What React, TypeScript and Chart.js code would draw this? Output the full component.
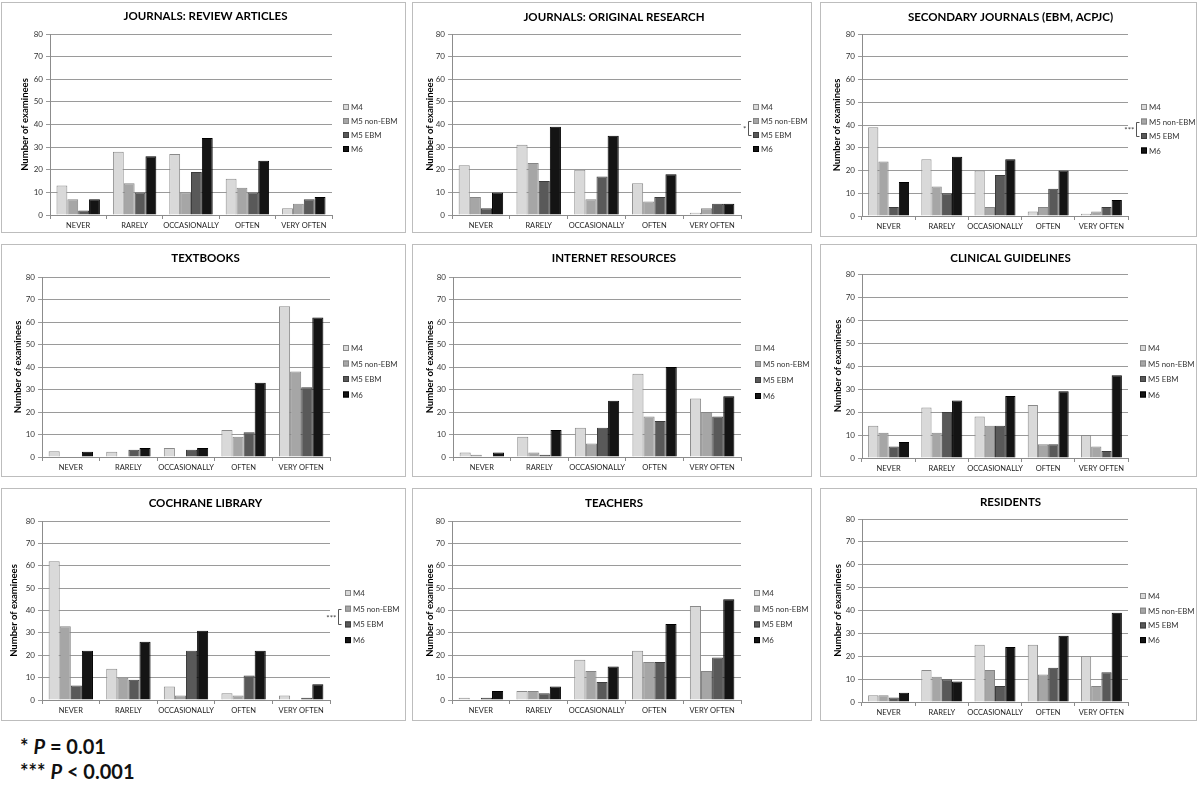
import React, { useEffect, useRef } from "react";
import { Chart, registerables } from "chart.js";

Chart.register(...registerables);

// ---------- data ----------
const categories = ["NEVER", "RARELY", "OCCASIONALLY", "OFTEN", "VERY OFTEN"];
const seriesNames = ["M4", "M5 non-EBM", "M5 EBM", "M6"];
const yMin = 0;
const yMax = 80;
const yStep = 10;
const yAxisTitle = "Number of examinees";

const reviewM4 = [13, 28, 27, 16, 3];
const reviewM5non = [7, 14, 10, 12, 5];
const reviewM5ebm = [2, 10, 19, 10, 7];
const reviewM6 = [7, 26, 34, 24, 8];

const originalM4 = [22, 31, 20, 14, 1];
const originalM5non = [8, 23, 7, 6, 3];
const originalM5ebm = [3, 15, 17, 8, 5];
const originalM6 = [10, 39, 35, 18, 5];

const secondaryM4 = [39, 25, 20, 2, 1];
const secondaryM5non = [24, 13, 4, 4, 2];
const secondaryM5ebm = [4, 10, 18, 12, 4];
const secondaryM6 = [15, 26, 25, 20, 7];

const textbooksM4 = [2.6, 2.3, 4, 12, 67];
const textbooksM5non = [0, 0, 0, 9, 38];
const textbooksM5ebm = [0, 3.2, 3.2, 11, 31];
const textbooksM6 = [2.3, 4, 4, 33, 62];

const internetM4 = [2, 9, 13, 37, 26];
const internetM5non = [1, 2, 6, 18, 20];
const internetM5ebm = [0, 1, 13, 16, 18];
const internetM6 = [2, 12, 25, 40, 27];

const guidelinesM4 = [14, 22, 18, 23, 10];
const guidelinesM5non = [11, 11, 14, 6, 5];
const guidelinesM5ebm = [5, 20, 14, 6, 3];
const guidelinesM6 = [7, 25, 27, 29, 36];

const cochraneM4 = [62, 14, 6, 3, 2];
const cochraneM5non = [33, 10, 2, 2, 0];
const cochraneM5ebm = [6.5, 9, 22, 11, 1];
const cochraneM6 = [22, 26, 31, 22, 7];

const teachersM4 = [1, 4, 18, 22, 42];
const teachersM5non = [0, 4, 13, 17, 13];
const teachersM5ebm = [1, 3, 8, 17, 19];
const teachersM6 = [4, 6, 15, 34, 45];

const residentsM4 = [3, 14, 25, 25, 20];
const residentsM5non = [3, 11, 14, 12, 7];
const residentsM5ebm = [2, 10, 7, 15, 13];
const residentsM6 = [4, 9, 24, 29, 39];

const panelTitles = [
  "JOURNALS: REVIEW ARTICLES",
  "JOURNALS: ORIGINAL RESEARCH",
  "SECONDARY JOURNALS (EBM, ACPJC)",
  "TEXTBOOKS",
  "INTERNET RESOURCES",
  "CLINICAL GUIDELINES",
  "COCHRANE LIBRARY",
  "TEACHERS",
  "RESIDENTS",
];
const panelSeries = [
  [reviewM4, reviewM5non, reviewM5ebm, reviewM6],
  [originalM4, originalM5non, originalM5ebm, originalM6],
  [secondaryM4, secondaryM5non, secondaryM5ebm, secondaryM6],
  [textbooksM4, textbooksM5non, textbooksM5ebm, textbooksM6],
  [internetM4, internetM5non, internetM5ebm, internetM6],
  [guidelinesM4, guidelinesM5non, guidelinesM5ebm, guidelinesM6],
  [cochraneM4, cochraneM5non, cochraneM5ebm, cochraneM6],
  [teachersM4, teachersM5non, teachersM5ebm, teachersM6],
  [residentsM4, residentsM5non, residentsM5ebm, residentsM6],
];
const significanceMarks = ["", "*", "***", "", "", "", "***", "", ""];
const footnoteStars = ["*", "***"];
const footnoteTests = ["= 0.01", "< 0.001"];

// ---------- styles / layout ----------
const seriesFill = ["#d9d9d9", "#a6a6a6", "#595959", "#141414"];
const seriesBorder = ["#8a8a8a", "#858585", "#3c3c3c", "#000000"];
const FONT = "Lato, 'Open Sans', sans-serif";

type Layout = {
  box: [number, number, number, number];
  plot: [number, number, number, number];
  titleY: number;
  yTitleX: number;
  legendX: number;
  legendY: number;
  legendStep: number;
  bracketX: number;
};

const layouts: Layout[] = [
  { box: [1, 2, 405, 231], plot: [50, 34, 332, 215], titleY: 16, yTitleX: 25, legendX: 343, legendY: 107, legendStep: 14, bracketX: 0 },
  { box: [412, 2, 400, 231], plot: [452, 34, 741, 215], titleY: 17, yTitleX: 430, legendX: 753, legendY: 107, legendStep: 14, bracketX: 748 },
  { box: [820, 2, 377, 235], plot: [862, 34, 1128, 216], titleY: 17, yTitleX: 837, legendX: 1141, legendY: 107, legendStep: 14.5, bracketX: 1136 },
  { box: [1, 244, 405, 233], plot: [42, 277, 330, 457], titleY: 258, yTitleX: 18, legendX: 343, legendY: 348, legendStep: 15.5, bracketX: 0 },
  { box: [412, 244, 400, 233], plot: [453, 277, 741, 457], titleY: 258, yTitleX: 430, legendX: 755, legendY: 348, legendStep: 16, bracketX: 0 },
  { box: [820, 244, 377, 233], plot: [862, 274, 1128, 458], titleY: 258, yTitleX: 838, legendX: 1140, legendY: 348, legendStep: 15.5, bracketX: 0 },
  { box: [1, 488, 405, 233], plot: [42, 521, 330, 700], titleY: 503, yTitleX: 14, legendX: 345, legendY: 593, legendStep: 15.7, bracketX: 338 },
  { box: [412, 488, 400, 233], plot: [452, 521, 741, 700], titleY: 503, yTitleX: 430, legendX: 754, legendY: 593, legendStep: 15.7, bracketX: 0 },
  { box: [820, 488, 377, 233], plot: [862, 519, 1128, 702], titleY: 502, yTitleX: 838, legendX: 1140, legendY: 596, legendStep: 14.7, bracketX: 0 },
];

function Panel({ index }: { index: number }) {
  const ref = useRef<HTMLCanvasElement | null>(null);
  const L = layouts[index];
  const [bx, by, bw, bh] = L.box;
  const [pl, pt, pr, pb] = L.plot;

  useEffect(() => {
    if (!ref.current) return;
    const title = panelTitles[index];
    const mark = significanceMarks[index];
    const yAxisWidth = pl - bx;
    const xAxisHeight = by + bh - pb;
    const decor = {
      id: "decor" + index,
      afterDraw(chart: any) {
        const ctx = chart.ctx as CanvasRenderingContext2D;
        ctx.save();
        // title
        ctx.fillStyle = "#000";
        ctx.font = `bold 11.5px ${FONT}`;
        ctx.textAlign = "center";
        ctx.textBaseline = "middle";
        ctx.fillText(title, bw / 2 + 2, L.titleY - by);
        // y axis title
        ctx.save();
        ctx.translate(L.yTitleX - bx, (pt + pb) / 2 - by);
        ctx.rotate(-Math.PI / 2);
        ctx.font = `bold 9.5px ${FONT}`;
        ctx.fillText(yAxisTitle, 0, 0);
        ctx.restore();
        // legend
        ctx.textAlign = "left";
        chart.data.datasets.forEach((ds: any, i: number) => {
          const x = L.legendX - bx;
          const y = L.legendY + i * L.legendStep - by;
          ctx.fillStyle = ds.backgroundColor;
          ctx.fillRect(x, y - 3, 6, 6);
          ctx.strokeStyle = ds.borderColor;
          ctx.lineWidth = 1;
          ctx.strokeRect(x + 0.5, y - 2.5, 5, 5);
          ctx.fillStyle = "#333";
          ctx.font = `7.8px ${FONT}`;
          ctx.fillText(ds.label, x + 8, y + 0.5);
        });
        // significance bracket
        if (mark) {
          const lx = L.bracketX - bx + 0.5;
          const y1 = L.legendY + L.legendStep - by;
          const y2 = L.legendY + 2 * L.legendStep - by;
          ctx.strokeStyle = "#555";
          ctx.lineWidth = 1;
          ctx.beginPath();
          ctx.moveTo(lx + 3, Math.round(y1) + 0.5);
          ctx.lineTo(lx, Math.round(y1) + 0.5);
          ctx.lineTo(lx, Math.round(y2) + 0.5);
          ctx.lineTo(lx + 3, Math.round(y2) + 0.5);
          ctx.stroke();
          ctx.fillStyle = "#444";
          ctx.font = `8px ${FONT}`;
          ctx.textAlign = "right";
          ctx.fillText(mark, lx - 2, (y1 + y2) / 2 + 1.5);
        }
        ctx.restore();
      },
    };

    const chart = new Chart(ref.current, {
      type: "bar",
      data: {
        labels: categories,
        datasets: seriesNames.map((name, i) => ({
          label: name,
          data: panelSeries[index][i],
          backgroundColor: seriesFill[i],
          borderColor: seriesBorder[i],
          borderWidth: 1,
          categoryPercentage: 0.77,
          barPercentage: 1.0,
        })),
      },
      options: {
        responsive: false,
        animation: false,
        layout: {
          padding: { left: 0, top: pt - by, right: bx + bw - pr, bottom: 0 },
        },
        plugins: {
          legend: { display: false },
          title: { display: false },
          tooltip: { enabled: false },
        },
        scales: {
          x: {
            afterFit: (s: any) => {
              s.height = xAxisHeight;
            },
            grid: {
              drawOnChartArea: false,
              drawTicks: true,
              tickLength: 4,
              color: "#8c8c8c",
              offset: true,
            },
            border: { color: "#8c8c8c", width: 1 },
            ticks: {
              autoSkip: false,
              maxRotation: 0,
              minRotation: 0,
              padding: 2,
              color: "#222",
              font: { family: FONT, size: 7.5 },
            },
          },
          y: {
            min: yMin,
            max: yMax,
            afterFit: (s: any) => {
              s.width = yAxisWidth;
            },
            grid: {
              color: "#9a9a9a",
              drawTicks: true,
              tickLength: 4,
            },
            border: { color: "#8c8c8c", width: 1 },
            ticks: {
              stepSize: yStep,
              padding: 3,
              color: "#333",
              font: { family: FONT, size: 8 },
            },
          },
        },
      },
      plugins: [decor],
    } as any);
    return () => chart.destroy();
  }, [index]);

  return (
    <div
      style={{
        position: "absolute",
        left: bx,
        top: by,
        width: bw,
        height: bh,
        border: "1px solid #bdbdbd",
        boxSizing: "border-box",
      }}
    >
      <canvas
        ref={ref}
        width={bw}
        height={bh}
        style={{ position: "absolute", left: -1, top: -1, width: bw, height: bh }}
      />
    </div>
  );
}

export default function App() {
  return (
    <div
      style={{
        position: "absolute",
        left: 0,
        top: 0,
        width: 1200,
        height: 789,
        background: "#fff",
        overflow: "hidden",
      }}
    >
      {layouts.map((_, i) => (
        <Panel key={i} index={i} />
      ))}
      {footnoteStars.map((s, i) => (
        <div
          key={i}
          style={{
            position: "absolute",
            left: 20,
            top: 734 + i * 25,
            height: 24,
            lineHeight: "24px",
            fontFamily: FONT,
            fontWeight: 700,
            fontSize: 20,
            color: "#111",
            whiteSpace: "nowrap",
          }}
        >
          {s} <i>P</i> {footnoteTests[i]}
        </div>
      ))}
    </div>
  );
}
